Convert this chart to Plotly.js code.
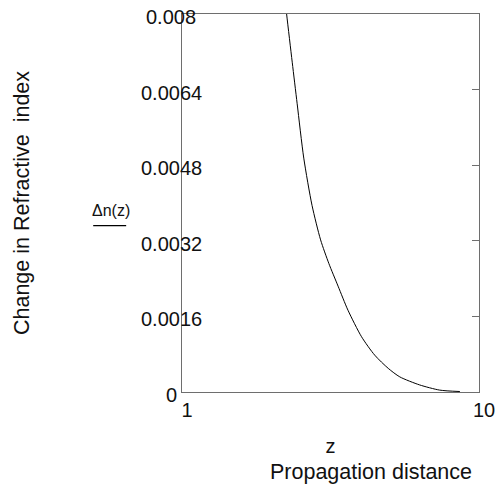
<!DOCTYPE html>
<html>
<head>
<meta charset="utf-8">
<script src="https://cdn.plot.ly/plotly-3.0.1.min.js"></script>
<style>html,body{margin:0;padding:0;background:#fff;}#chart{width:496px;height:487px;}</style>
</head>
<body>
<div id="chart"></div>
<script>
// Data
const z  = [4.0, 4.17, 4.34, 4.49, 4.69, 4.94, 5.20, 5.45, 5.73, 6.03, 6.44, 6.84, 7.25, 7.60, 8.20, 8.81, 9.42];
const dn = [0.0091, 0.0080, 0.00698, 0.00610, 0.00495, 0.00395, 0.00322, 0.00272, 0.00224, 0.00173, 0.00117, 0.00078, 0.00050, 0.00032, 0.00015, 0.00004, 0.00001];

const yTickVals = [0, 0.0016, 0.0032, 0.0048, 0.0064, 0.008];
const yTickText = ['0', '0.0016', '0.0032', '0.0048', '0.0064', '0.008'];
const xTickVals = [1, 10];
const xTickText = ['1', '10'];

const FONT = 'Liberation Sans, Arial, sans-serif';
const frame = '#6e6e6e';
const ink = '#111';

const traces = [
  {
    x: z, y: dn, type: 'scatter', mode: 'lines',
    line: {color: '#000', width: 1, shape: 'spline', smoothing: 0.7},
    hoverinfo: 'skip', showlegend: false
  },
  {
    // carries the right-hand axis (inward ticks); drawn invisible
    x: z, y: dn, type: 'scatter', mode: 'lines', yaxis: 'y2',
    line: {color: 'rgba(0,0,0,0)', width: 0}, hoverinfo: 'skip', showlegend: false
  }
];

const annotations = yTickVals.map((v, i) => ({
  x: -0.037, xref: 'paper', y: v, yref: 'y',
  text: yTickText[i], showarrow: false, xanchor: 'center', yanchor: 'middle', yshift: -3,
  font: {family: FONT, size: 20, color: ink}
}));
annotations.push({
  x: 0.637, xref: 'paper', y: -0.2116, yref: 'paper',
  text: 'Propagation distance', showarrow: false, xanchor: 'center', yanchor: 'middle',
  font: {family: FONT, size: 21.5, color: ink}
});
annotations.push({
  x: -0.239, xref: 'paper', y: 0.479, yref: 'paper',
  text: 'Δn(z)', showarrow: false, xanchor: 'center', yanchor: 'middle',
  font: {family: FONT, size: 16, color: ink}
});

const layout = {
  width: 496, height: 487,
  margin: {l: 182, r: 17, t: 14, b: 95},
  paper_bgcolor: '#fff', plot_bgcolor: '#fff',
  font: {family: FONT, size: 20, color: ink},
  showlegend: false,
  xaxis: {
    range: [1, 10], showline: true, mirror: true, linecolor: frame, linewidth: 1,
    ticks: '', showgrid: false, zeroline: false,
    tickmode: 'array', tickvals: xTickVals, ticktext: xTickText,
    tickfont: {family: FONT, size: 20, color: ink},
    ticklabelshift: 5,
    title: {text: 'z', font: {family: FONT, size: 20, color: ink}, standoff: 18}
  },
  yaxis: {
    range: [0, 0.008], showline: true, mirror: true, linecolor: frame, linewidth: 1,
    ticks: '', showgrid: false, zeroline: false, showticklabels: false,
    title: {text: 'Change in Refractive\u00a0 index', font: {family: FONT, size: 21.5, color: ink}, standoff: 145}
  },
  yaxis2: {
    overlaying: 'y', side: 'right', range: [0, 0.008],
    tickmode: 'array', tickvals: yTickVals, ticks: 'inside', ticklen: 7, tickcolor: frame, tickwidth: 1,
    showticklabels: false, showgrid: false, zeroline: false, showline: false
  },
  shapes: [{
    type: 'line', xref: 'paper', yref: 'paper',
    x0: -0.299, x1: -0.188, y0: 0.44, y1: 0.44,
    line: {color: '#000', width: 1.2}
  }],
  annotations: annotations
};

Plotly.newPlot('chart', traces, layout, {staticPlot: true, displayModeBar: false});
</script>
</body>
</html>
